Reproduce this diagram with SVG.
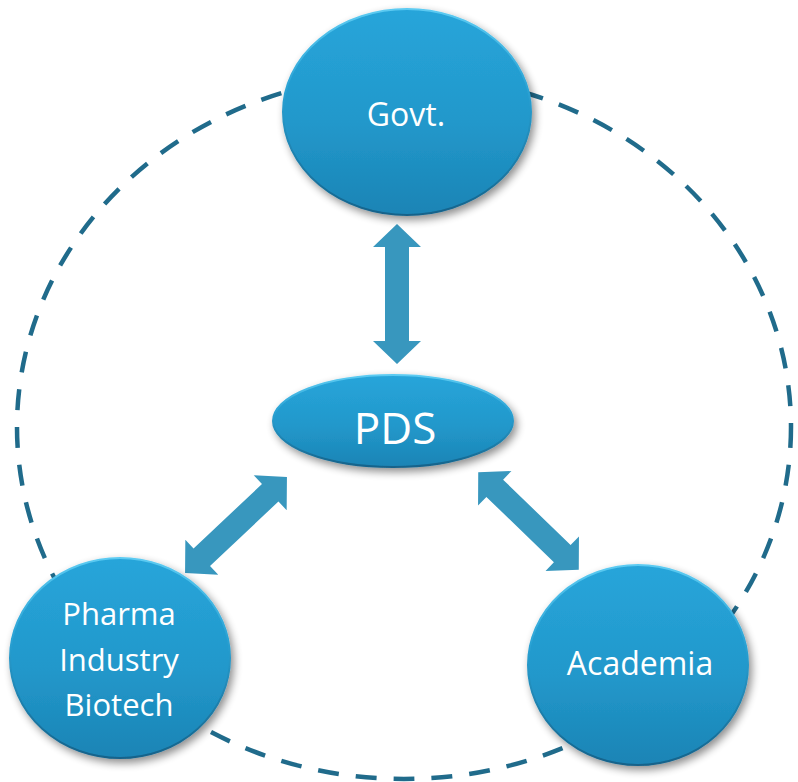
<svg xmlns="http://www.w3.org/2000/svg" width="798" height="782" viewBox="0 0 798 782">
<defs>
<linearGradient id="nodeFill" x1="0" y1="0" x2="0" y2="1">
<stop offset="0" stop-color="#27a5da"/>
<stop offset="0.55" stop-color="#2298cb"/>
<stop offset="1" stop-color="#1b84b5"/>
</linearGradient>
<linearGradient id="rim" x1="0" y1="0" x2="0" y2="1">
<stop offset="0" stop-color="#5ccbf2"/>
<stop offset="0.4" stop-color="#2aa2d4"/>
<stop offset="1" stop-color="#14628a"/>
</linearGradient>
<filter id="shadow" x="-20%" y="-20%" width="140%" height="140%">
<feGaussianBlur in="SourceAlpha" stdDeviation="4"/>
<feOffset dx="3" dy="4" result="b"/>
<feComponentTransfer><feFuncA type="linear" slope="0.45"/></feComponentTransfer>
<feMerge><feMergeNode/><feMergeNode in="SourceGraphic"/></feMerge>
</filter>
<path id="dblArrow" d="M -70 0 L -47 -24 L -47 -12 L 47 -12 L 47 -24 L 70 0 L 47 24 L 47 12 L -47 12 L -47 24 Z"/>
</defs>
<style>
.node { fill: url(#nodeFill); stroke: url(#rim); stroke-width: 2; filter: url(#shadow); }
.label { font-family: "Open Sans", "Noto Sans", "DejaVu Sans", sans-serif; fill: #ffffff; text-anchor: middle; }
.arrow { fill: #3897be; }
.ring { fill: none; stroke: #206b8b; stroke-width: 4.5; stroke-dasharray: 21 17; }
</style>
<rect width="798" height="782" fill="#ffffff"/>
<g id="connectors">
<ellipse class="ring" cx="404" cy="427" rx="387" ry="352"/>
<use href="#dblArrow" class="arrow" transform="translate(397,294) rotate(90)"/>
<use href="#dblArrow" class="arrow" transform="translate(236,525) rotate(-43.3)"/>
<use href="#dblArrow" class="arrow" transform="translate(528.5,521) rotate(44.1)"/>
</g>
<g id="node-govt">
<ellipse class="node" cx="407" cy="112" rx="124" ry="103"/>
<text class="label" x="406" y="126" font-size="32">Govt.</text>
</g>
<g id="node-pds">
<ellipse class="node" cx="393" cy="421" rx="120" ry="46"/>
<text class="label" x="395" y="444" font-size="44">PDS</text>
</g>
<g id="node-pharma">
<ellipse class="node" cx="120" cy="658" rx="110" ry="100"/>
<text class="label" font-size="31"><tspan x="119" y="625">Pharma</tspan><tspan x="119" y="671">Industry</tspan><tspan x="119" y="716">Biotech</tspan></text>
</g>
<g id="node-academia">
<ellipse class="node" cx="638" cy="665" rx="110" ry="100"/>
<text class="label" x="640" y="675" font-size="32">Academia</text>
</g>
</svg>
